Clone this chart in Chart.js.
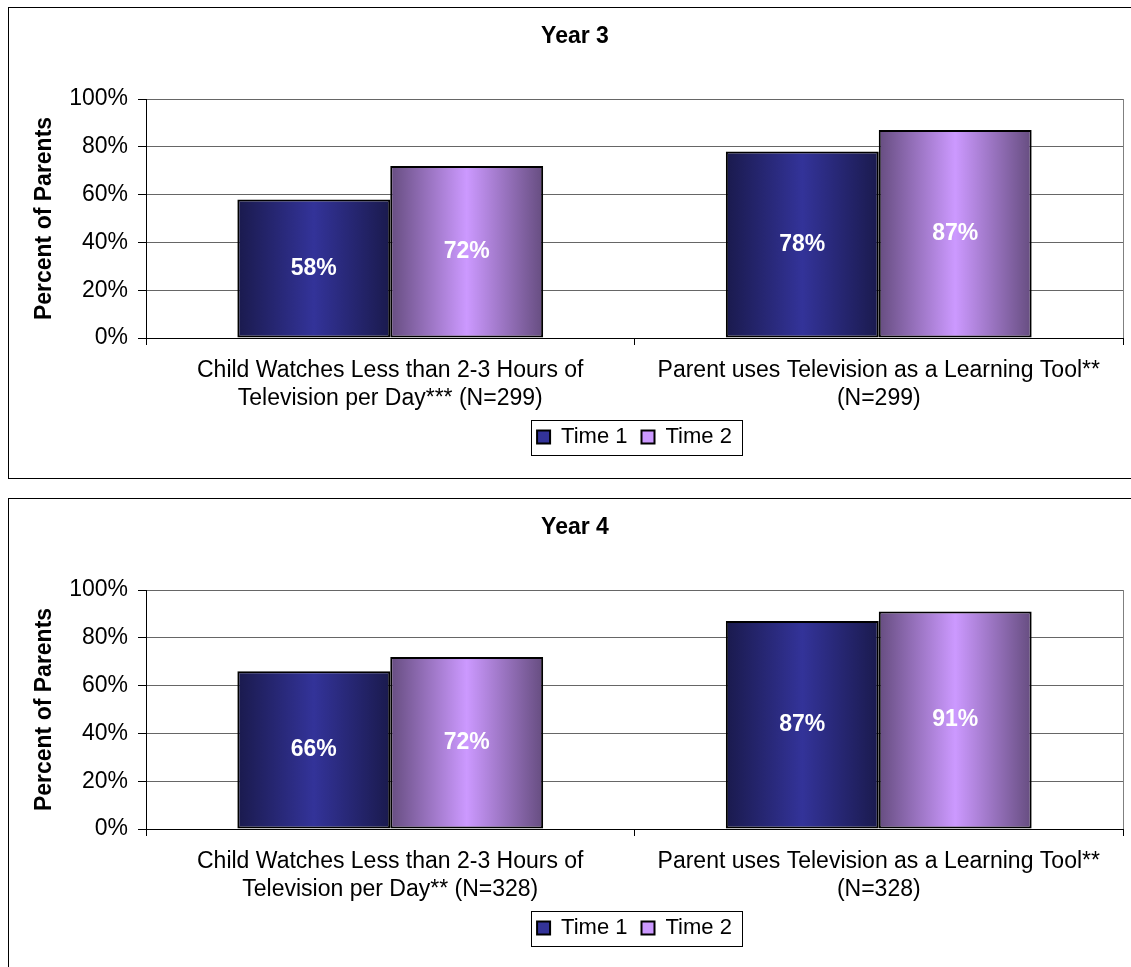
<!DOCTYPE html>
<html>
<head>
<meta charset="utf-8">
<script src="https://cdn.jsdelivr.net/npm/chart.js@4.4.0/dist/chart.umd.min.js"></script>
<style>
  html, body { margin: 0; padding: 0; background: #fff; overflow: hidden; width: 1131px; height: 967px; }
  .box { position: absolute; left: 8px; width: 1140px; border: 1px solid #000; background: #fff; }
  .box canvas { display: block; }
</style>
</head>
<body>
<div class="box" style="top:7px;height:470px"><canvas id="chartYear3" width="1122" height="470"></canvas></div>
<div class="box" style="top:498px;height:470px"><canvas id="chartYear4" width="1122" height="470"></canvas></div>
<script>
"use strict";

const seriesNames = ["Time 1", "Time 2"];
const yTicks = [0, 20, 40, 60, 80, 100];

const year3Labels = [
  ["Child Watches Less than 2-3 Hours of", "Television per Day*** (N=299)"],
  ["Parent uses Television as a Learning Tool**", "(N=299)"]
];
const year3Time1 = [58, 78];
const year3Time2 = [72, 87];

const year4Labels = [
  ["Child Watches Less than 2-3 Hours of", "Television per Day** (N=328)"],
  ["Parent uses Television as a Learning Tool**", "(N=328)"]
];
const year4Time1 = [66, 87];
const year4Time2 = [72, 91];

const shades = [
  { base: "#333399", dark: "#1a1a4d" },
  { base: "#cc99ff", dark: "#664d80" }
];

Chart.defaults.font.family = "'Liberation Sans', Arial, sans-serif";
Chart.defaults.color = "#000";

// horizontal "cylinder" shading like the Excel bars
const barGradient = {
  id: "barGradient",
  beforeDatasetsDraw(chart) {
    const ctx = chart.ctx;
    chart.data.datasets.forEach((ds, i) => {
      const shade = shades[i];
      chart.getDatasetMeta(i).data.forEach(bar => {
        const left = bar.x - bar.width / 2;
        const g = ctx.createLinearGradient(left, 0, left + bar.width, 0);
        g.addColorStop(0, shade.dark);
        g.addColorStop(0.5, shade.base);
        g.addColorStop(1, shade.dark);
        bar.options.backgroundColor = g;
      });
    });
  }
};

const valueLabels = {
  id: "valueLabels",
  afterDatasetsDraw(chart) {
    const ctx = chart.ctx;
    ctx.save();
    ctx.fillStyle = "#fff";
    ctx.font = "bold 23px 'Liberation Sans', Arial, sans-serif";
    ctx.textAlign = "center";
    ctx.textBaseline = "middle";
    chart.data.datasets.forEach((ds, i) => {
      chart.getDatasetMeta(i).data.forEach((bar, j) => {
        ctx.fillText(ds.data[j] + "%", bar.x, (bar.y + bar.base) / 2);
      });
    });
    ctx.restore();
  }
};

// legend centred under the plot area, with a frame, plus right plot edge
const plotFrame = {
  id: "plotFrame",
  afterLayout(chart) {
    const lg = chart.legend;
    const area = chart.chartArea;
    lg.left = area.left;
    lg.right = area.right;
    lg.width = area.right - area.left;

    const tb = chart.titleBlock;
    tb.left += 9;
    tb.right += 9;
  },
  afterDraw(chart) {
    const ctx = chart.ctx;
    const area = chart.chartArea;
    ctx.save();
    ctx.strokeStyle = "#808080";
    ctx.lineWidth = 1;
    ctx.beginPath();
    ctx.moveTo(area.right + 0.5, area.top);
    ctx.lineTo(area.right + 0.5, area.bottom);
    ctx.stroke();

    const boxes = chart.legend.legendHitBoxes;
    if (boxes && boxes.length) {
      const first = boxes[0];
      const last = boxes[boxes.length - 1];
      const cy = first.top + first.height / 2;
      ctx.strokeStyle = "#000";
      ctx.strokeRect(Math.round(first.left - 6) + 0.5, Math.round(cy - 17.5) + 0.5,
        Math.round(last.left + last.width - first.left + 16), 35);
    }
    ctx.restore();
  }
};

function makeChart(id, title, labels, time1, time2) {
  const el = document.getElementById(id);
  if (!el) return;
  const ctx = el.getContext("2d");

  return new Chart(ctx, {
    type: "bar",
    data: {
      labels: labels,
      datasets: [time1, time2].map((values, i) => ({
        label: seriesNames[i],
        data: values,
        backgroundColor: () => shades[i].base,
        borderColor: "#000",
        borderWidth: 2,
        borderSkipped: false,
        categoryPercentage: 0.626,
        barPercentage: 1
      }))
    },
    options: {
      responsive: false,
      animation: false,
      devicePixelRatio: 1,
      layout: { padding: { top: 0, left: 0, right: 8, bottom: 20 } },
      plugins: {
        title: {
          display: true,
          text: title,
          color: "#000",
          font: { size: 23, weight: "bold" },
          padding: { top: 15.2, bottom: 48.2 }
        },
        legend: {
          position: "bottom",
          labels: {
            boxWidth: 13,
            boxHeight: 13,
            padding: 14,
            color: "#000",
            font: { size: 22 }
          }
        },
        tooltip: { enabled: false }
      },
      scales: {
        x: {
          offset: true,
          grid: { offset: true, drawOnChartArea: false, tickLength: 7, color: "#000" },
          border: { color: "#000", width: 1 },
          ticks: {
            color: "#000",
            font: { size: 23, lineHeight: 1.217 },
            padding: 12,
            maxRotation: 0,
            autoSkip: false
          },
          afterFit: s => { s.height = 74; }
        },
        y: {
          min: 0,
          max: 100,
          afterBuildTicks: s => { s.ticks = yTicks.map(v => ({ value: v })); },
          grid: { color: "#666", tickColor: "#000", tickLength: 8 },
          border: { color: "#000", width: 1 },
          ticks: {
            color: "#000",
            font: { size: 23 },
            padding: 10,
            callback: v => v + "%"
          },
          title: {
            display: true,
            text: "Percent of Parents",
            color: "#000",
            font: { size: 23, weight: "bold" },
            padding: { top: 22.2, bottom: 0 }
          },
          afterFit: s => { s.width = 137; }
        }
      }
    },
    plugins: [barGradient, valueLabels, plotFrame]
  });
}

makeChart("chartYear3", "Year 3", year3Labels, year3Time1, year3Time2);
makeChart("chartYear4", "Year 4", year4Labels, year4Time1, year4Time2);
</script>
</body>
</html>
